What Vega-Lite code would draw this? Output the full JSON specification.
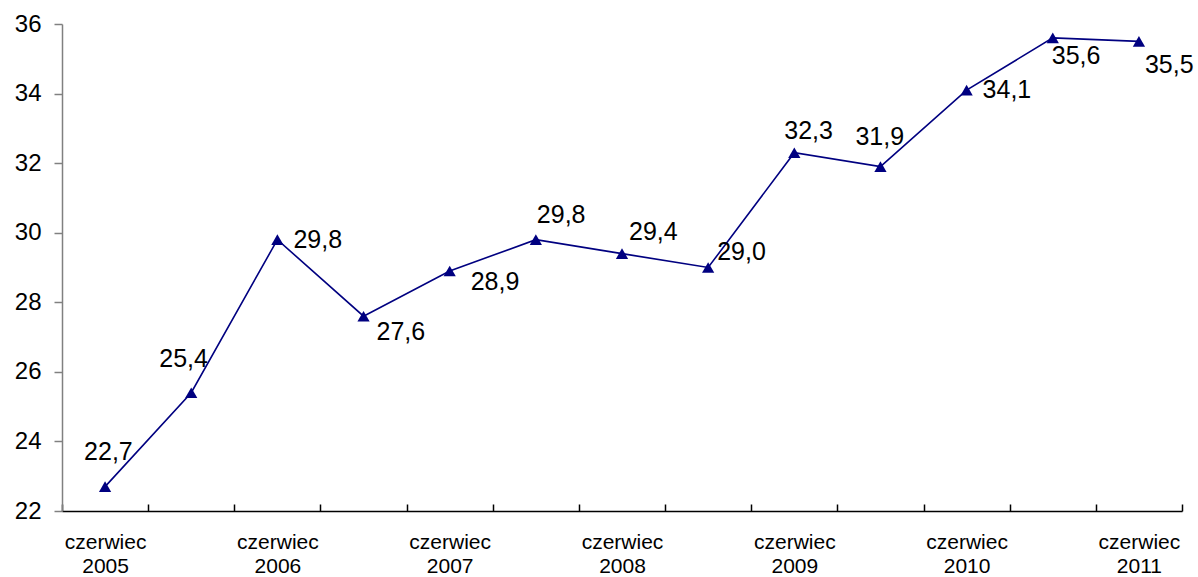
{
  "$schema": "https://vega.github.io/schema/vega-lite/v6.json",
  "width": 1120,
  "height": 487,
  "autosize": {"type": "none"},
  "padding": {"left": 62, "top": 24, "right": 16, "bottom": 66},
  "background": "white",
  "config": {
    "view": {"stroke": null},
    "font": "Liberation Sans",
    "text": {"font": "Liberation Sans", "fontSize": 25, "color": "#000000", "baseline": "middle", "align": "left"}
  },
  "data": {
    "values": [
      {"okres": "2005-06", "wartosc": 22.7},
      {"okres": "2005-12", "wartosc": 25.4},
      {"okres": "2006-06", "wartosc": 29.8},
      {"okres": "2006-12", "wartosc": 27.6},
      {"okres": "2007-06", "wartosc": 28.9},
      {"okres": "2007-12", "wartosc": 29.8},
      {"okres": "2008-06", "wartosc": 29.4},
      {"okres": "2008-12", "wartosc": 29.0},
      {"okres": "2009-06", "wartosc": 32.3},
      {"okres": "2009-12", "wartosc": 31.9},
      {"okres": "2010-06", "wartosc": 34.1},
      {"okres": "2010-12", "wartosc": 35.6},
      {"okres": "2011-06", "wartosc": 35.5}
    ]
  },
  "transform": [
    {"calculate": "replace(format(datum.wartosc, '.1f'), '.', ',')", "as": "etykieta"}
  ],
  "encoding": {
    "x": {
      "field": "okres",
      "type": "ordinal",
      "scale": {"type": "band", "paddingInner": 0, "paddingOuter": 0},
      "axis": {
        "title": null,
        "tickBand": "extent",
        "labelAngle": 0,
        "labelExpr": "isString(datum.value) && substring(datum.value, 5, 7) == '06' ? ['czerwiec', substring(datum.value, 0, 4)] : ''",
        "labelFont": "Liberation Sans",
        "labelFontSize": 21,
        "labelColor": "#000000",
        "labelLineHeight": 24,
        "labelBaseline": "top",
        "labelPadding": 27,
        "labelOverlap": false,
        "labelFlush": false,
        "domainColor": "#000000",
        "domainWidth": 1.5,
        "tickColor": "#000000",
        "tickWidth": 1.5,
        "tickSize": -7,
        "grid": false
      }
    },
    "y": {
      "field": "wartosc",
      "type": "quantitative",
      "scale": {"domain": [22, 36], "nice": false, "zero": false},
      "axis": {
        "title": null,
        "values": [22, 24, 26, 28, 30, 32, 34, 36],
        "format": "d",
        "labelFont": "Liberation Sans",
        "labelFontSize": 24,
        "labelColor": "#000000",
        "labelPadding": 13,
        "domainColor": "#808080",
        "domainWidth": 1.5,
        "tickColor": "#808080",
        "tickWidth": 1.5,
        "tickSize": 8,
        "grid": false
      }
    }
  },
  "layer": [
    {"mark": {"type": "line", "color": "#000080", "strokeWidth": 1.6}},
    {"mark": {"type": "point", "shape": "triangle-up", "size": 150, "filled": true, "color": "#000080", "opacity": 1}},
    {"transform": [{"filter": {"field": "okres", "oneOf": ["2005-06"]}}], "mark": {"type": "text", "dx": -21, "dy": -35}, "encoding": {"text": {"field": "etykieta"}}},
    {"transform": [{"filter": {"field": "okres", "oneOf": ["2005-12"]}}], "mark": {"type": "text", "dx": -32, "dy": -34}, "encoding": {"text": {"field": "etykieta"}}},
    {"transform": [{"filter": {"field": "okres", "oneOf": ["2006-06", "2010-06"]}}], "mark": {"type": "text", "dx": 16, "dy": 0}, "encoding": {"text": {"field": "etykieta"}}},
    {"transform": [{"filter": {"field": "okres", "oneOf": ["2006-12"]}}], "mark": {"type": "text", "dx": 13, "dy": 16}, "encoding": {"text": {"field": "etykieta"}}},
    {"transform": [{"filter": {"field": "okres", "oneOf": ["2007-06"]}}], "mark": {"type": "text", "dx": 21, "dy": 11}, "encoding": {"text": {"field": "etykieta"}}},
    {"transform": [{"filter": {"field": "okres", "oneOf": ["2007-12"]}}], "mark": {"type": "text", "dx": 1, "dy": -25}, "encoding": {"text": {"field": "etykieta"}}},
    {"transform": [{"filter": {"field": "okres", "oneOf": ["2008-06"]}}], "mark": {"type": "text", "dx": 7, "dy": -22}, "encoding": {"text": {"field": "etykieta"}}},
    {"transform": [{"filter": {"field": "okres", "oneOf": ["2008-12"]}}], "mark": {"type": "text", "dx": 9, "dy": -16}, "encoding": {"text": {"field": "etykieta"}}},
    {"transform": [{"filter": {"field": "okres", "oneOf": ["2009-06"]}}], "mark": {"type": "text", "dx": -10, "dy": -22}, "encoding": {"text": {"field": "etykieta"}}},
    {"transform": [{"filter": {"field": "okres", "oneOf": ["2009-12"]}}], "mark": {"type": "text", "dx": -25, "dy": -30}, "encoding": {"text": {"field": "etykieta"}}},
    {"transform": [{"filter": {"field": "okres", "oneOf": ["2010-12"]}}], "mark": {"type": "text", "dx": -1, "dy": 18}, "encoding": {"text": {"field": "etykieta"}}},
    {"transform": [{"filter": {"field": "okres", "oneOf": ["2011-06"]}}], "mark": {"type": "text", "dx": 6, "dy": 24}, "encoding": {"text": {"field": "etykieta"}}}
  ]
}
